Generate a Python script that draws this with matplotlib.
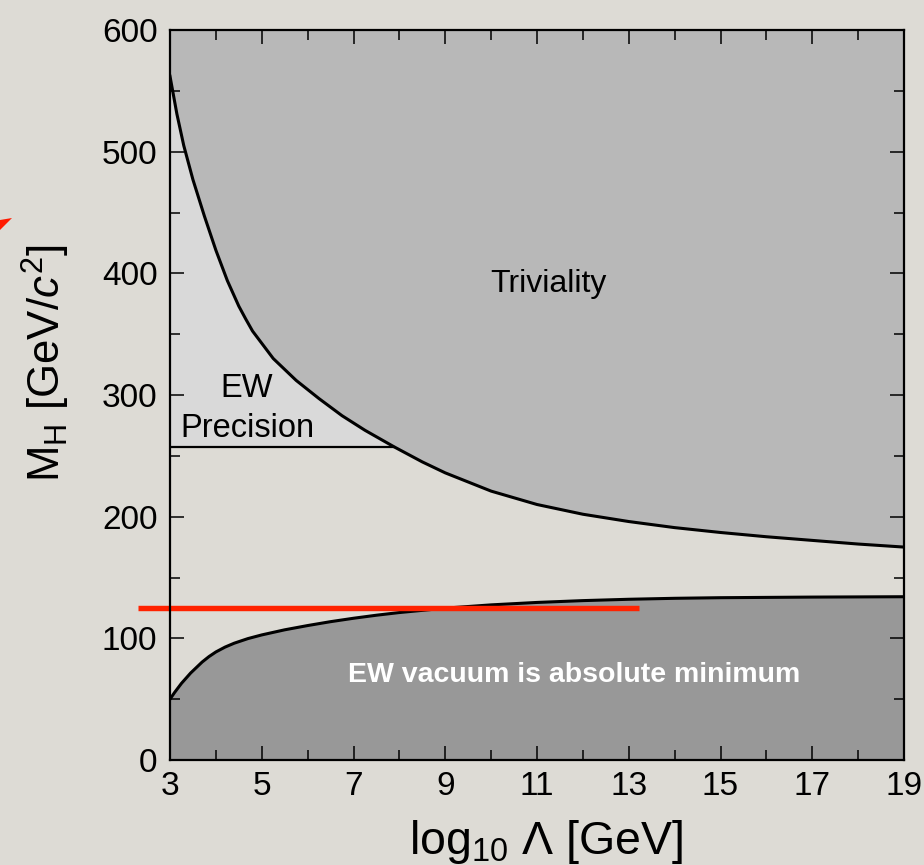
"""Higgs mass bounds vs. cut-off scale (triviality / vacuum stability)."""

import matplotlib
import numpy as np

matplotlib.use("Agg")
import matplotlib.pyplot as plt
from matplotlib.patches import Polygon
from matplotlib.ticker import MultipleLocator

# upper bound (triviality)
TRIV_X = [3.0, 3.15, 3.3, 3.5, 3.75, 4.0, 4.25, 4.5, 4.65, 4.8, 5.25, 5.75, 6.25, 6.75,
          7.25, 7.88, 8.5, 9.0, 10.0, 11.0, 12.0, 13.0, 14.0, 15.0, 16.0, 17.0, 18.0, 19.0]
TRIV_M = [562, 531, 505, 477, 447, 419, 394, 373, 362.5, 352.5, 330, 312, 297, 283,
          271, 257.5, 245, 236, 221, 210, 202, 196, 191, 187, 183.5, 180.5, 177.5, 175]

# lower bound (vacuum stability)
VAC_X = [3.0, 3.1, 3.25, 3.45, 3.7, 3.85, 4.0, 4.2, 4.4, 4.7, 5.0, 5.5, 6.0, 6.5, 7.0,
         7.5, 8.0, 9.0, 10.0, 11.0, 12.0, 13.0, 14.0, 15.0, 17.0, 19.0]
VAC_M = [50, 55.5, 63, 71.5, 80.5, 85, 88.8, 92.8, 96, 99.8, 102.8, 107, 110.5, 113.7, 116.5,
         119, 121.2, 124.8, 127.5, 129.5, 131, 132.1, 132.9, 133.4, 133.9, 134.2]

# EW precision upper limit and its crossing with the triviality curve
EW_PREC_M = 257.5
EW_PREC_X_END = 7.88

# measured Higgs mass marker
HIGGS_M = 125
HIGGS_X = [2.3, 13.22]

X_TICKS = [3, 5, 7, 9, 11, 13, 15, 17, 19]
Y_TICKS = [0, 100, 200, 300, 400, 500, 600]

BG = "#dddbd5"
FONT = ["Liberation Sans", "DejaVu Sans"]


def main() -> None:
    plt.rcParams["font.family"] = FONT
    plt.rcParams["mathtext.fontset"] = "custom"
    plt.rcParams["mathtext.rm"] = "Liberation Sans"
    plt.rcParams["mathtext.it"] = "Liberation Sans:italic"

    fig = plt.figure(figsize=(9.24, 8.65), dpi=100, facecolor=BG)
    ax = fig.add_axes([170 / 924, 1 - 760 / 865, 734 / 924, 730 / 865])
    ax.set_facecolor(BG)

    tx = np.array(TRIV_X)
    tm = np.array(TRIV_M)
    vx = np.array(VAC_X)
    vm = np.array(VAC_M)

    # filled regions
    ax.fill_between(tx, tm, 600, color="#b8b8b8", lw=0, zorder=1)
    sel = tx <= EW_PREC_X_END + 1e-9
    ax.fill_between(tx[sel], EW_PREC_M, tm[sel], color="#d9d9d9", lw=0, zorder=1)
    ax.fill_between(vx, 0, vm, color="#989898", lw=0, zorder=1)

    # boundary curves
    ax.plot(tx, tm, color="black", lw=2.2, zorder=3, solid_joinstyle="round")
    ax.plot(vx, vm, color="black", lw=2.2, zorder=3, solid_joinstyle="round")
    ax.plot([X_TICKS[0], EW_PREC_X_END], [EW_PREC_M, EW_PREC_M], color="black", lw=1.6, zorder=3)

    # red 125 GeV line, runs out past the left axis
    ax.plot(HIGGS_X, [HIGGS_M, HIGGS_M], color="#ff2200", lw=3.9, zorder=4,
            clip_on=False, solid_capstyle="butt")

    ax.text(11.26, 384.6, "Triviality", fontsize=23, ha="center", va="baseline", zorder=5)
    ax.text(4.68, 298.4, "EW", fontsize=23.5, ha="center", va="baseline", zorder=5)
    ax.text(4.68, 265.5, "Precision", fontsize=23.5, ha="center", va="baseline", zorder=5)
    ax.text(11.81, 64.5, "EW vacuum is absolute minimum", fontsize=20.5, fontweight="bold",
            color="white", ha="center", va="baseline", zorder=5)

    ax.set_xlim(3, 19)
    ax.set_ylim(0, 600)
    ax.set_xticks(X_TICKS)
    ax.set_yticks(Y_TICKS)
    ax.xaxis.set_minor_locator(MultipleLocator(1))
    ax.yaxis.set_minor_locator(MultipleLocator(50))
    ax.tick_params(which="both", direction="in", top=True, right=True, width=1.1, labelsize=24)
    ax.tick_params(which="major", length=10)
    ax.tick_params(which="minor", length=7)
    ax.tick_params(axis="x", pad=8)
    ax.tick_params(axis="y", pad=9)
    for sp in ax.spines.values():
        sp.set_linewidth(1.6)
        sp.set_zorder(6)

    ax.set_xlabel(r"log$_{10}$ $\Lambda$ [GeV]", fontsize=33.5)
    ax.xaxis.set_label_coords(0.513, -0.080)
    ax.set_ylabel(r"M$_{\mathrm{H}}$ [GeV/$\mathit{c}^2$]", fontsize=31.5)
    ax.yaxis.set_label_coords(-0.133, 0.544)

    # cut-off red arrow tip at the left edge of the slide
    tip = [(0, 220), (12, 218), (0, 230)]
    fig.patches.append(Polygon([(x / 924, 1 - y / 865) for x, y in tip], closed=True,
                               transform=fig.transFigure, color="#ff1a00", lw=0))

    fig.savefig("out.png", dpi=100, facecolor=BG)
    plt.close(fig)


if __name__ == "__main__":
    main()
